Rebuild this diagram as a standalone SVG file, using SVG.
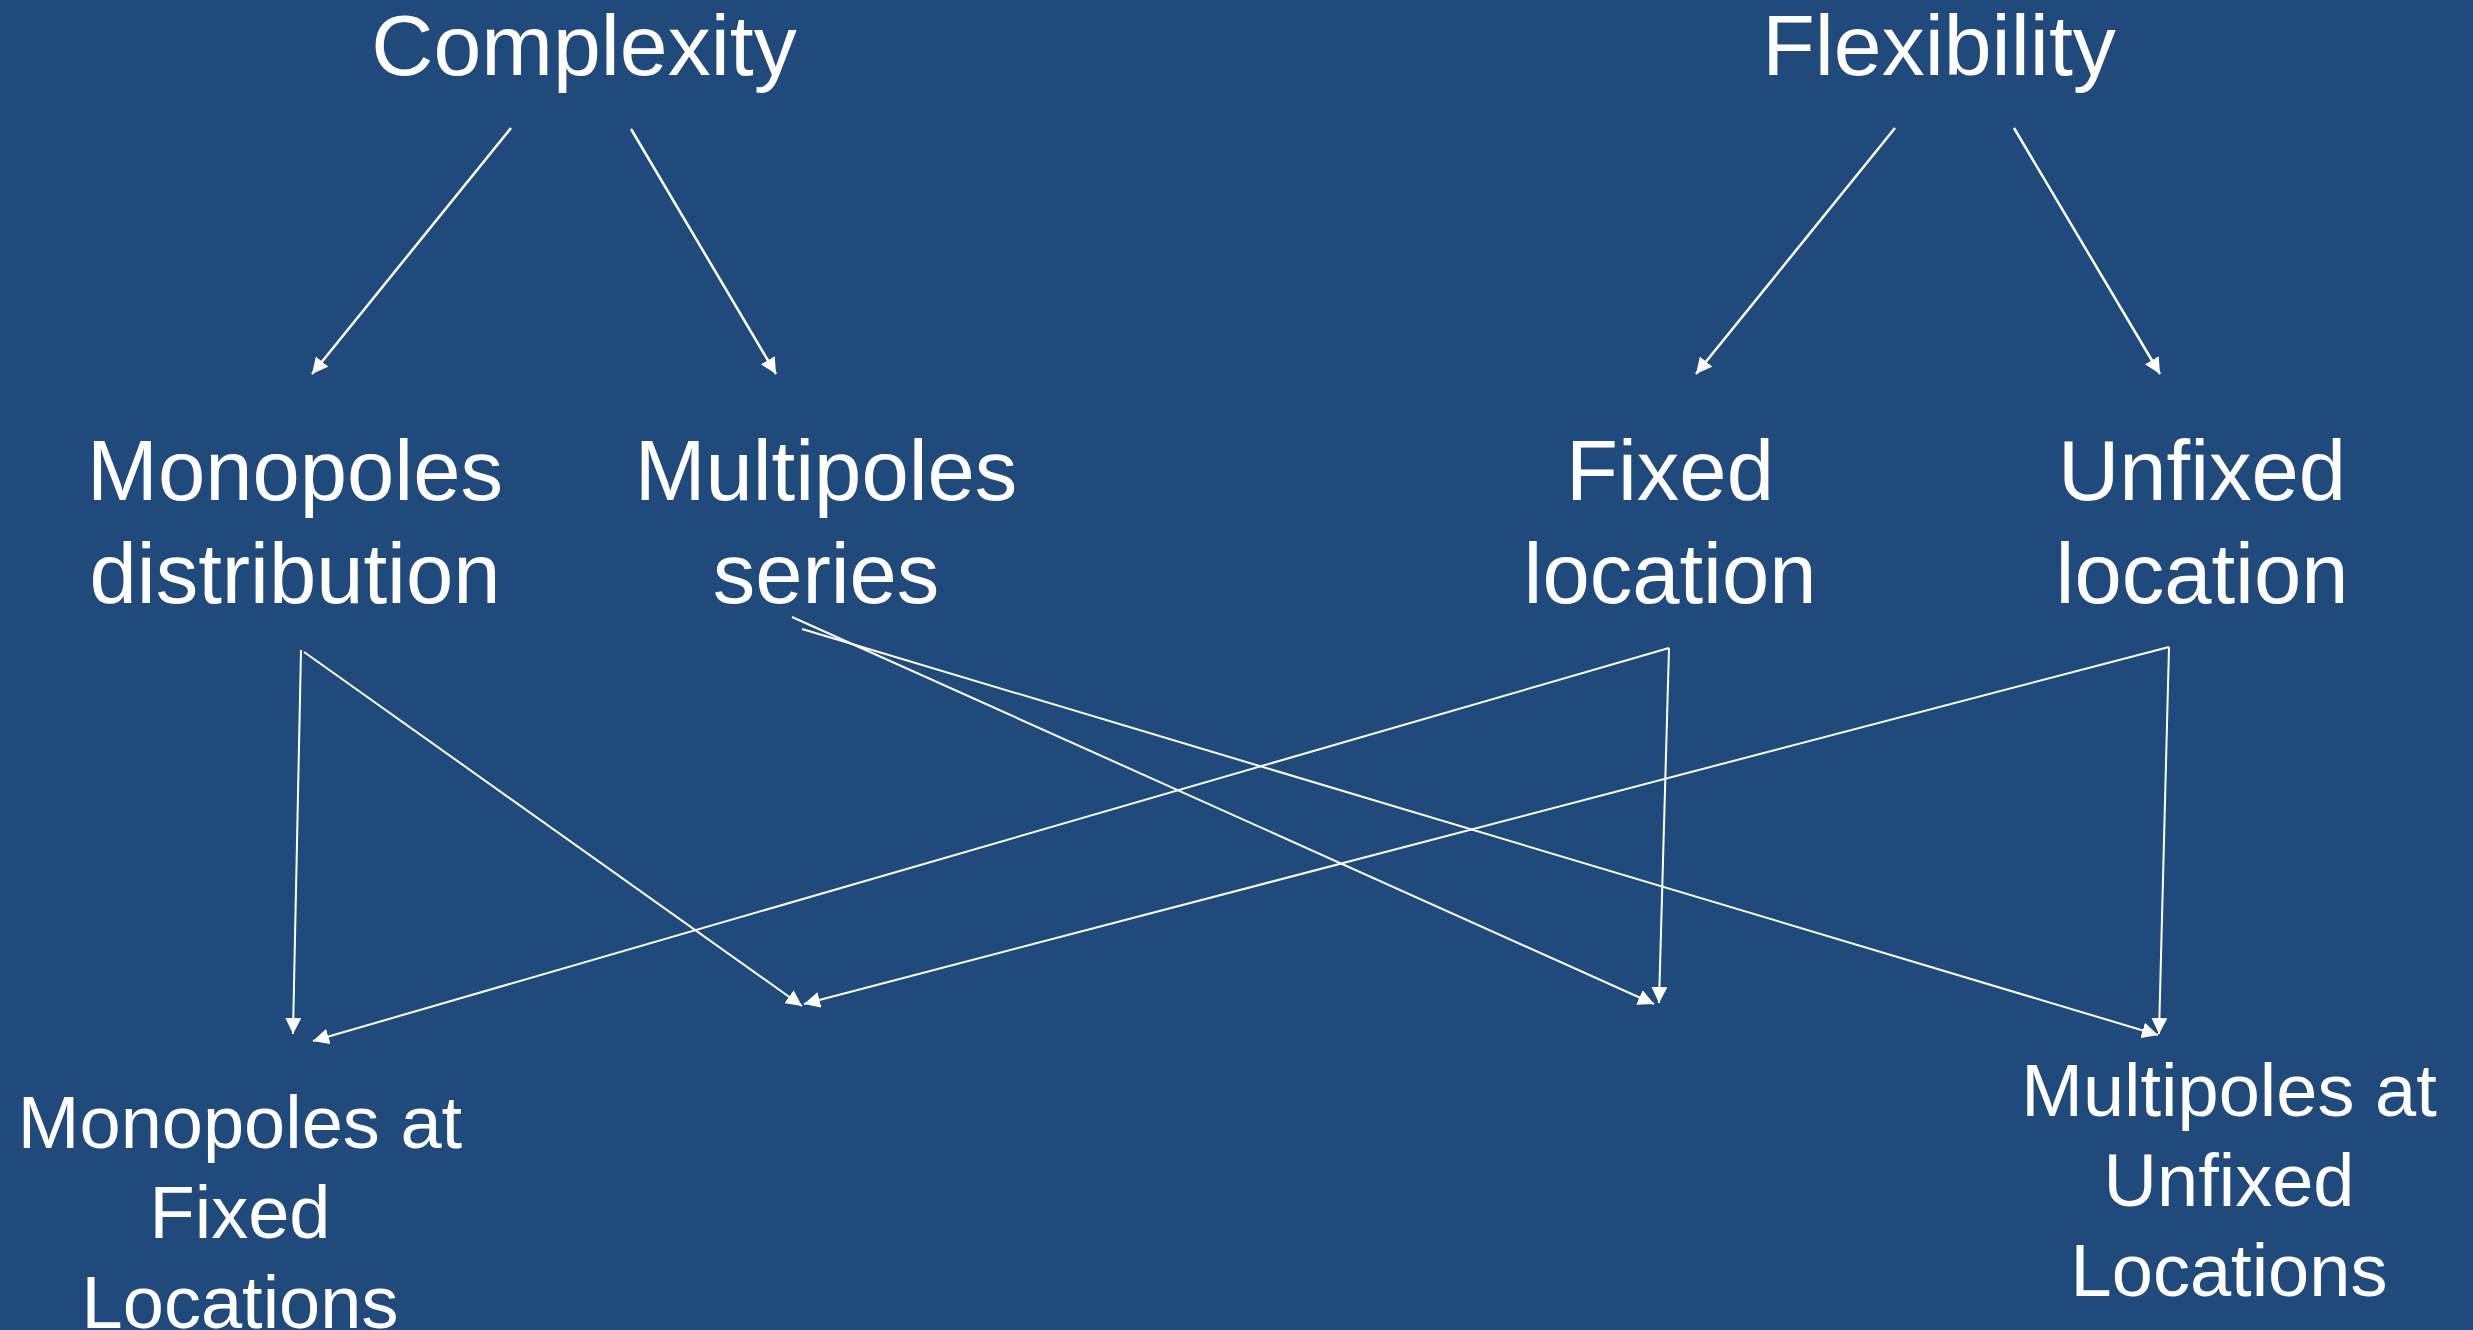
<svg xmlns="http://www.w3.org/2000/svg" width="2473" height="1330" viewBox="0 0 2473 1330">
<defs>
<style>
text{font-family:"Liberation Sans",Arial,sans-serif;fill:#ffffff;text-anchor:middle}
.h{font-size:86px}
.m{font-size:85px}
.b{font-size:74px}
.c{stroke:#ffffff;fill:none}
.t{stroke-width:2.5}
.l{stroke-width:2}
</style>
<marker id="ah" markerUnits="userSpaceOnUse" markerWidth="18" markerHeight="16" refX="16" refY="8" orient="auto">
<path d="M0,0 L16,8 L0,16 Z" fill="#ffffff"/>
</marker>
</defs>
<rect width="2473" height="1330" fill="#214A7C"/>
<g id="connectors">
<line class="c t" x1="511" y1="128" x2="312" y2="374" marker-end="url(#ah)"/>
<line class="c t" x1="631" y1="129" x2="776" y2="374" marker-end="url(#ah)"/>
<line class="c t" x1="1895" y1="128" x2="1696" y2="374" marker-end="url(#ah)"/>
<line class="c t" x1="2014" y1="128" x2="2160" y2="374" marker-end="url(#ah)"/>
<line class="c l" x1="301" y1="650" x2="293" y2="1034" marker-end="url(#ah)"/>
<line class="c l" x1="304" y1="652" x2="802" y2="1006" marker-end="url(#ah)"/>
<line class="c l" x1="792" y1="617" x2="1654" y2="1004" marker-end="url(#ah)"/>
<line class="c l" x1="802" y1="629" x2="2158" y2="1035" marker-end="url(#ah)"/>
<line class="c l" x1="1669" y1="648" x2="1659" y2="1003" marker-end="url(#ah)"/>
<line class="c l" x1="1669" y1="648" x2="313" y2="1041" marker-end="url(#ah)"/>
<line class="c l" x1="2169" y1="647" x2="2159" y2="1034" marker-end="url(#ah)"/>
<line class="c l" x1="2169" y1="647" x2="804" y2="1004" marker-end="url(#ah)"/>
</g>
<g id="complexity"><text class="h" x="584" y="75">Complexity</text></g>
<g id="flexibility"><text class="h" x="1939" y="75">Flexibility</text></g>
<g id="monopoles"><text class="m" x="295" y="500">Monopoles</text><text class="m" x="295" y="603">distribution</text></g>
<g id="multipoles"><text class="m" x="826" y="500">Multipoles</text><text class="m" x="826" y="603">series</text></g>
<g id="fixed"><text class="m" x="1670" y="500">Fixed</text><text class="m" x="1670" y="603">location</text></g>
<g id="unfixed"><text class="m" x="2202" y="500">Unfixed</text><text class="m" x="2202" y="603">location</text></g>
<g id="mono-fixed"><text class="b" x="240" y="1148">Monopoles at</text><text class="b" x="240" y="1238">Fixed</text><text class="b" x="240" y="1328">Locations</text></g>
<g id="multi-unfixed"><text class="b" x="2229" y="1116">Multipoles at</text><text class="b" x="2229" y="1206">Unfixed</text><text class="b" x="2229" y="1296">Locations</text></g>
</svg>
